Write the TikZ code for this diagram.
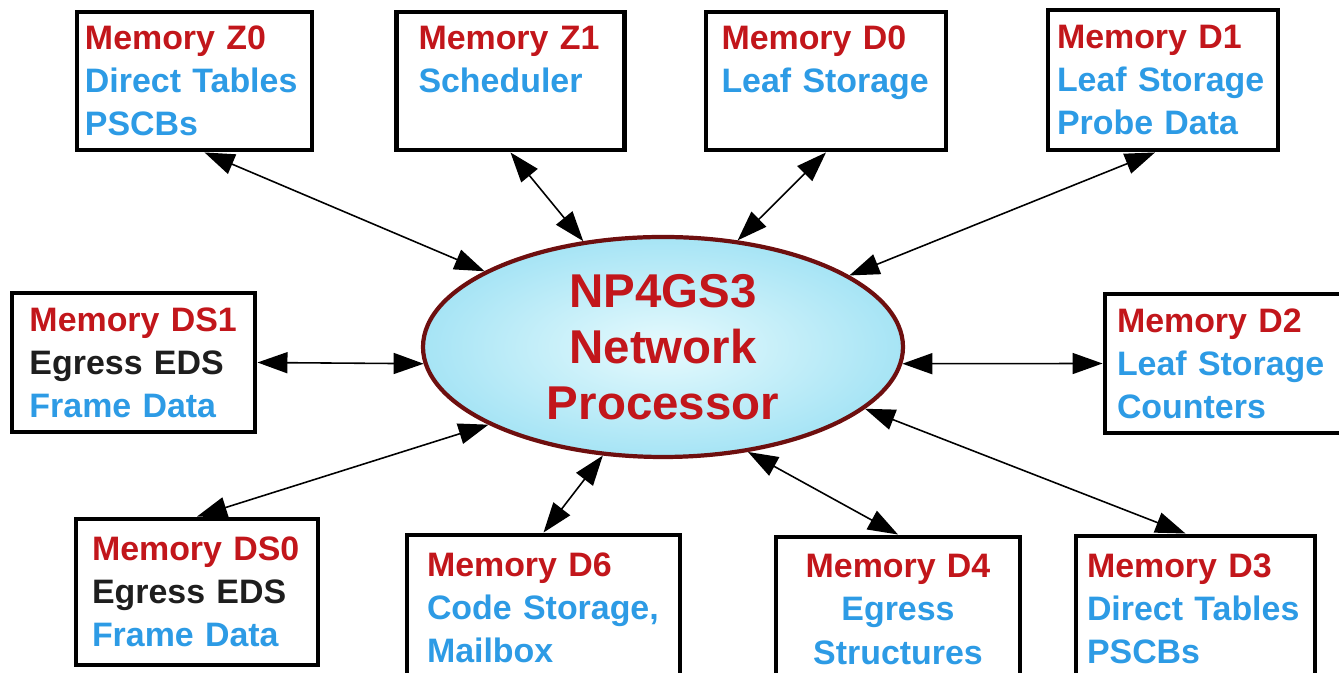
\documentclass[tikz,border=0pt]{standalone}
\usepackage{fontspec}
\setmainfont{Liberation Sans}
\usepackage{tikz}
\usetikzlibrary{arrows.meta,shapes.geometric}
\definecolor{rojoNP}{HTML}{C2161B}
\definecolor{azulNP}{HTML}{2D9BE5}
\definecolor{grisNP}{HTML}{1E1E1E}
\definecolor{granateNP}{HTML}{6E0F0F}
\definecolor{celesteNP}{HTML}{A6E4F5}
\definecolor{celesteNPClaro}{HTML}{E6FAFD}

\begin{document}
\begin{tikzpicture}[
    memcaja/.style={rectangle, draw=black, line width=2.8pt, fill=white, align=left,
                    inner xsep=0pt, text=azulNP, font=\fontsize{19.3}{24.5}\selectfont\bfseries},
    proc/.style={ellipse, draw=granateNP, line width=2.4pt, inner sep=0pt,
                 inner color=celesteNPClaro, outer color=celesteNP, text=rojoNP,
                 minimum width=9.6cm, minimum height=4.4cm, align=center,
                 font=\fontsize{27}{32}\selectfont\bfseries},
    flecha/.style={<->, >={Triangle[length=6mm,width=4.2mm]}, line width=0.9pt}
  ]
  \useasboundingbox (0,0) rectangle (26.78,13.46);
  \clip (0,0) rectangle (26.78,13.46);

  % Procesador central
  \node[proc] (np) at (13.26,6.52) {NP4GS3\\ Network\\ Processor};

  % Memorias de arriba
  \node[memcaja, minimum width=4.70cm, minimum height=2.76cm, text width=4.38cm] (z0) at (3.89,11.84)
    {\textcolor{rojoNP}{Memory Z0}\\ Direct Tables\\ PSCBs};
  \node[memcaja, minimum width=4.56cm, minimum height=2.76cm, text width=3.68cm] (z1) at (10.21,11.84)
    {\textcolor{rojoNP}{Memory Z1}\\ Scheduler\\ \mbox{}};
  \node[memcaja, minimum width=4.80cm, minimum height=2.76cm, text width=4.18cm] (d0) at (16.52,11.84)
    {\textcolor{rojoNP}{Memory D0}\\ Leaf Storage\\ \mbox{}};
  \node[memcaja, minimum width=4.60cm, minimum height=2.80cm, text width=4.24cm] (d1) at (23.26,11.86)
    {\textcolor{rojoNP}{Memory D1}\\ Leaf Storage\\ Probe Data};

  % Memorias de los lados
  \node[memcaja, minimum width=4.86cm, minimum height=2.78cm, text width=4.16cm] (ds1) at (2.67,6.21)
    {\textcolor{rojoNP}{Memory DS1}\\ \textcolor{grisNP}{Egress EDS}\\ Frame Data};
  \node[memcaja, minimum width=4.80cm, minimum height=2.78cm, text width=4.32cm] (d2) at (24.50,6.19)
    {\textcolor{rojoNP}{Memory D2}\\ Leaf Storage\\ Counters};

  % Memorias de abajo
  \node[memcaja, minimum width=4.84cm, minimum height=2.92cm, text width=4.20cm] (ds0) at (3.94,1.62)
    {\textcolor{rojoNP}{Memory DS0}\\ \textcolor{grisNP}{Egress EDS}\\ Frame Data};
  \node[memcaja, minimum width=5.46cm, minimum height=2.90cm, text width=4.66cm] (d6) at (10.87,1.31)
    {\textcolor{rojoNP}{Memory D6}\\ Code Storage,\\ Mailbox};
  \node[memcaja, align=center, minimum width=4.88cm, minimum height=2.90cm, text width=4.20cm] (d4) at (17.96,1.27)
    {\textcolor{rojoNP}{Memory D4}\\ Egress\\ Structures};
  \node[memcaja, minimum width=4.78cm, minimum height=2.90cm, text width=4.34cm] (d3) at (23.91,1.29)
    {\textcolor{rojoNP}{Memory D3}\\ Direct Tables\\ PSCBs};

  % Enlaces
  \draw[flecha] ([xshift=0.2cm]z0.south) -- (np.157);
  \draw[flecha] (z1.south) -- (np.127);
  \draw[flecha] (d0.south) -- (np.55);
  \draw[flecha] ([xshift=-0.16cm]d1.south) -- (np.21);
  \draw[flecha] (ds1.east) -- (np.184);
  \draw[flecha] (np.356) -- (d2.west);
  \draw[flecha] (ds0.north) -- (np.204);
  \draw[flecha] (d6.north) -- (np.241);
  \draw[flecha] (d4.north) -- (np.309);
  \draw[flecha] ([xshift=-0.2cm]d3.north) -- (np.343);
\end{tikzpicture}
\end{document}
